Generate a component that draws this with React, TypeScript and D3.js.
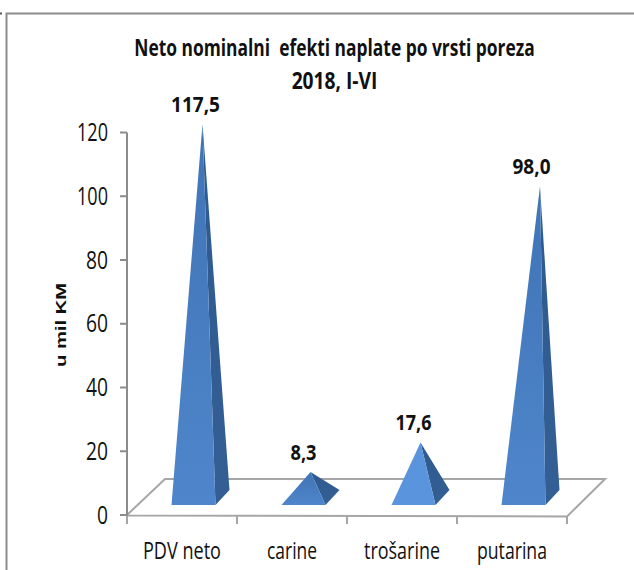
import React from 'react';
import * as d3 from 'd3';

const categories = ['PDV neto', 'carine', 'trošarine', 'putarina'];
const values = [117.5, 8.3, 17.6, 98.0];
const valueLabels = ['117,5', '8,3', '17,6', '98,0'];
const yTicks = [0, 20, 40, 60, 80, 100, 120];
const titleLines = ['Neto nominalni  efekti naplate po vrsti poreza', '2018, I-VI'];

const width = 634;
const height = 570;
const font = '"Liberation Sans Narrow", "Open Sans", sans-serif';

const y = d3.scaleLinear().domain([0, 120]).range([515, 132.5]);
const x = d3.scaleBand().domain(categories).range([127, 567]);

// 3d floor offset
const depthX = 38;
const depthY = 36;

// squeezed widths, the original font is narrower than anything installed
const titleScale = [0.725, 0.8];
const labelWidth = [49, 26, 36, 38];
const catWidth = [78, 50, 76, 70];

export default function App() {
  const line = d3.line();
  const [x0, x1] = x.range();
  const floor = line([
    [x0, y(0)],
    [x0 + depthX, y(0) - depthY],
    [x1 + depthX, y(0) - depthY],
    [x1, y(0) + 1.5],
    [x0, y(0) + 0.5],
  ]);

  return (
    <svg
      width={width}
      height={height}
      style={{ position: 'absolute', left: 0, top: 0, background: '#fff' }}
      fontFamily={font}
    >
      <defs>
        <linearGradient id="front" x1="0" x2="0" y1="0" y2="1">
          <stop offset="0" stopColor="#3f74b5" />
          <stop offset="1" stopColor="#4f86cb" />
        </linearGradient>
        <linearGradient id="side" x1="0" x2="0" y1="0" y2="1">
          <stop offset="0" stopColor="#2f5a8f" />
          <stop offset="1" stopColor="#345f94" />
        </linearGradient>
      </defs>

      <path d="M634,13.5H6.5V570" fill="none" stroke="#8c8c8c" strokeWidth={2} />
      <path d="M0,13.5H2" stroke="#555" strokeWidth={2} />

      {titleLines.map((t, i) => (
        <text
          key={t}
          transform={`translate(334.5,${56 + i * 33}) scale(${titleScale[i]},1)`}
          textAnchor="middle"
          fontSize={24}
          fontWeight={700}
          fill="#111"
          style={{ whiteSpace: 'pre' }}
        >
          {t}
        </text>
      ))}

      <text
        transform="translate(65.5,325) rotate(-90)"
        textAnchor="middle"
        fontSize={15.5}
        fontWeight={700}
        fontFamily="Liberation Sans, sans-serif"
        fill="#111"
        textLength={84}
        lengthAdjust="spacingAndGlyphs"
      >
        u mil KM
      </text>

      <path d={floor!} fill="none" stroke="#a6a6a6" strokeWidth={2} />

      <path d={`M${x0},${y(120)}V${y(0) + 9}`} fill="none" stroke="#8c8c8c" strokeWidth={2} />
      {yTicks.map((t) => (
        <g key={t}>
          <line x1={120} x2={x0} y1={y(t)} y2={y(t)} stroke="#8c8c8c" strokeWidth={2} />
          <text
            x={108}
            y={y(t) + 8.5}
            textAnchor="end"
            fontSize={25}
            fill="#111"
            textLength={t >= 100 ? 31 : t === 0 ? 11 : 22}
            lengthAdjust="spacingAndGlyphs"
          >
            {t}
          </text>
        </g>
      ))}

      {[...categories.map((c) => x(c)!), x1].map((px) => (
        <line key={px} x1={px} x2={px} y1={y(0) + 1} y2={y(0) + 9} stroke="#a6a6a6" strokeWidth={2} />
      ))}
      {categories.map((c, i) => (
        <text
          key={c}
          x={x(c)! + x.bandwidth() / 2}
          y={559}
          textAnchor="middle"
          fontSize={24}
          fill="#111"
          textLength={catWidth[i]}
          lengthAdjust="spacingAndGlyphs"
        >
          {c}
        </text>
      ))}

      {categories.map((c, i) => {
        const cx = x(c)! + x.bandwidth() / 2 + 11.5;
        const half = 22;
        const base = y(0) - 10;
        // last spike leans further back in the original
        const apexX = cx + (i === 3 ? 16.5 : i === 0 ? 9 : 7);
        const apexY = y(values[i]) - 16.5;
        const right: [number, number] = [cx + half + 14, base - 15];
        return (
          <g key={c}>
            <path d={line([[apexX, apexY], [cx + half, base], right])!} fill="url(#side)" />
            <path
              d={line([[apexX, apexY], [cx - half, base], [cx + half, base]])!}
              fill={i === 2 ? '#5a94dc' : 'url(#front)'}
            />
            <text
              x={i === 3 ? cx + 8 : cx + (i === 0 ? 2 : 0)}
              y={apexY - 12}
              textAnchor="middle"
              fontSize={21}
              fontWeight={700}
              fill="#111"
              textLength={labelWidth[i]}
              lengthAdjust="spacingAndGlyphs"
            >
              {valueLabels[i]}
            </text>
          </g>
        );
      })}
    </svg>
  );
}
